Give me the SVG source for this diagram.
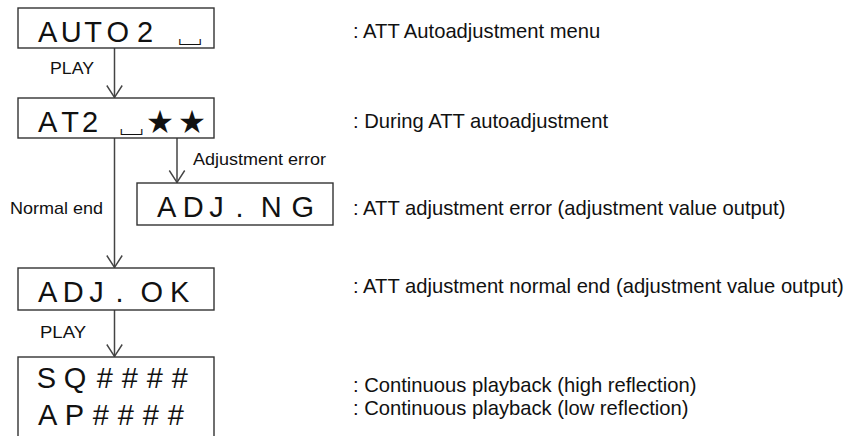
<svg xmlns="http://www.w3.org/2000/svg" width="852" height="436" viewBox="0 0 852 436">
<style>
.box{fill:#fff;stroke:#333;stroke-width:1.4}
.big{font-family:"Liberation Sans",Arial,sans-serif;font-size:29px;fill:#111}
.sym{font-family:"Liberation Sans","Noto Sans CJK JP",sans-serif;font-size:29px;fill:#111}
.star{font-family:"Noto Sans CJK JP",sans-serif;font-size:26px;fill:#111}
.lbl{font-family:"Liberation Sans",Arial,sans-serif;font-size:17px;fill:#111}
.desc{font-family:"Liberation Sans",Arial,sans-serif;font-size:20.2px;fill:#111}
.conn{fill:none;stroke:#444;stroke-width:1.5}
</style>
<defs>
<marker id="arr" markerUnits="userSpaceOnUse" markerWidth="20" markerHeight="20" viewBox="-14 -10 16 20" refX="0" refY="0" orient="auto">
<path d="M-12,-7.7 L0,0 L-12,7.7" fill="none" stroke="#444" stroke-width="1.4"/>
</marker>
</defs>
<rect width="852" height="436" fill="#fff"/>

<g id="connectors">
<line class="conn" x1="114.5" y1="48" x2="114.5" y2="97.5" marker-end="url(#arr)"/>
<line class="conn" x1="114.5" y1="138" x2="114.5" y2="267.5" marker-end="url(#arr)"/>
<line class="conn" x1="177" y1="138" x2="177" y2="182.5" marker-end="url(#arr)"/>
<line class="conn" x1="114.5" y1="310" x2="114.5" y2="356.5" marker-end="url(#arr)"/>
<text class="lbl" x="50" y="74" textLength="44" lengthAdjust="spacingAndGlyphs">PLAY</text>
<text class="lbl" x="193" y="165" textLength="133" lengthAdjust="spacingAndGlyphs">Adjustment error</text>
<text class="lbl" x="10" y="214" textLength="93" lengthAdjust="spacingAndGlyphs">Normal end</text>
<text class="lbl" x="40" y="338" textLength="46" lengthAdjust="spacingAndGlyphs">PLAY</text>
</g>

<g id="node-auto2">
<rect class="box" x="18" y="8" width="196" height="40"/>
<text class="big" x="38 60.7 84.3 106.6 137.1" y="42">AUTO2</text>
<text class="sym" font-family="Noto Sans CJK JP" x="175.5" y="42">␣</text>
</g>

<g id="node-at2">
<rect class="box" x="18" y="98" width="196" height="40"/>
<text class="big" x="38 61.3 82.1" y="132">AT2</text>
<text class="sym" font-family="Noto Sans CJK JP" x="117" y="132">␣</text>
<text class="star" x="147" y="131">★</text>
<text class="star" x="179" y="131">★</text>
</g>

<g id="node-adjng">
<rect class="box" x="137" y="183" width="196" height="42"/>
<text class="big" x="157 182.7 209.2 235.4 260.8 291.6" y="217">ADJ.NG</text>
</g>

<g id="node-adjok">
<rect class="box" x="18" y="268" width="196" height="42"/>
<text class="big" x="38 62.7 89.2 115.4 140.6 169.9" y="302">ADJ.OK</text>
</g>

<g id="node-play">
<rect class="box" x="18" y="357" width="196" height="84"/>
<text class="big" x="36.7 63.8 96.7 121.7 146.7 171.7" y="388">SQ####</text>
<text class="big" x="38 64.7 92.7 117.7 142.7 167.7" y="425">AP####</text>
</g>

<g id="descriptions">
<text class="desc" x="353" y="38">: ATT Autoadjustment menu</text>
<text class="desc" x="353" y="128">: During ATT autoadjustment</text>
<text class="desc" x="353" y="215">: ATT adjustment error (adjustment value output)</text>
<text class="desc" x="353" y="293">: ATT adjustment normal end (adjustment value output)</text>
<text class="desc" x="353" y="392">: Continuous playback (high reflection)</text>
<text class="desc" x="353" y="415">: Continuous playback (low reflection)</text>
</g>
</svg>
